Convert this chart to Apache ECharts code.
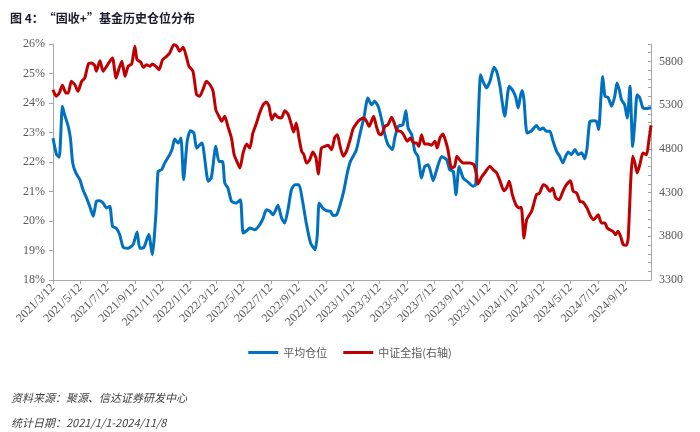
<!DOCTYPE html>
<html>
<head>
<meta charset="utf-8">
<script src="https://cdn.jsdelivr.net/npm/echarts@6/dist/echarts.min.js"></script>
<style>
html,body{margin:0;padding:0;background:#fff;}
#chart{width:700px;height:432px;}
</style>
</head>
<body>
<div id="chart"></div>
<script>
const titleText = '图 4：“固收+”基金历史仓位分布';
const sourceText = '资料来源：聚源、信达证券研发中心';
const dateText = '统计日期：2021/1/1-2024/11/8';
const seriesNames = ['平均仓位', '中证全指(右轴)'];

const xTickLabels = ['2021/3/12','2021/5/12','2021/7/12','2021/9/12','2021/11/12','2022/1/12','2022/3/12','2022/5/12','2022/7/12','2022/9/12','2022/11/12','2023/1/12','2023/3/12','2023/5/12','2023/7/12','2023/9/12','2023/11/12','2024/1/12','2024/3/12','2024/5/12','2024/7/12','2024/9/12'];
const xStart = '2021/3/12';
const xEnd = '2024/11/8';
const leftTicks = [18, 19, 20, 21, 22, 23, 24, 25, 26];
const rightTickLabels = [3300, 3800, 4300, 4800, 5300, 5800];

const positionDates = ['2021-03-12','2021-03-20','2021-03-26','2021-04-02','2021-04-07','2021-04-15','2021-04-20','2021-04-25','2021-05-02','2021-05-11',
'2021-05-18','2021-05-26','2021-06-02','2021-06-10','2021-06-17','2021-06-25','2021-07-02','2021-07-10','2021-07-17','2021-07-23',
'2021-07-31','2021-08-08','2021-08-16','2021-08-27','2021-09-07','2021-09-16','2021-09-22','2021-10-01','2021-10-12','2021-10-20',
'2021-10-28','2021-11-02','2021-11-10','2021-11-17','2021-11-28','2021-12-04','2021-12-09','2021-12-17','2021-12-23','2021-12-29',
'2022-01-06','2022-01-13','2022-01-21','2022-01-27','2022-02-05','2022-02-09','2022-02-14','2022-02-22','2022-03-01','2022-03-11',
'2022-03-18','2022-03-26','2022-03-31','2022-04-07','2022-04-15','2022-04-25','2022-05-05','2022-05-11','2022-05-19','2022-05-26',
'2022-06-06','2022-06-17','2022-06-25','2022-07-02','2022-07-10','2022-07-17','2022-07-28','2022-08-05','2022-08-12','2022-08-20',
'2022-08-27','2022-09-04','2022-09-13','2022-09-21','2022-09-30','2022-10-09','2022-10-19','2022-10-24','2022-10-28','2022-11-05',
'2022-11-13','2022-11-22','2022-11-28','2022-12-06','2022-12-13','2022-12-22','2022-12-30','2023-01-06','2023-01-19','2023-01-27',
'2023-02-05','2023-02-14','2023-02-22','2023-03-01','2023-03-09','2023-03-16','2023-03-24','2023-03-31','2023-04-10','2023-04-15',
'2023-04-23','2023-05-03','2023-05-10','2023-05-15','2023-05-23','2023-05-30','2023-06-06','2023-06-14','2023-06-21','2023-06-29',
'2023-07-10','2023-07-19','2023-07-29','2023-08-09','2023-08-16','2023-08-24','2023-08-30','2023-09-06','2023-09-15','2023-09-26',
'2023-10-07','2023-10-13','2023-10-18','2023-10-24','2023-10-29','2023-11-06','2023-11-14','2023-11-23','2023-11-29','2023-12-06',
'2023-12-17','2023-12-27','2024-01-05','2024-01-11','2024-01-16','2024-01-21','2024-01-25','2024-01-29','2024-02-05','2024-02-15',
'2024-02-26','2024-03-04','2024-03-12','2024-03-19','2024-03-27','2024-04-03','2024-04-11','2024-04-18','2024-04-25','2024-05-01',
'2024-05-07','2024-05-14','2024-05-22','2024-05-29','2024-06-06','2024-06-13','2024-06-18','2024-06-24','2024-07-02','2024-07-09',
'2024-07-14','2024-07-19','2024-07-23','2024-07-28','2024-08-04','2024-08-12','2024-08-19','2024-08-24','2024-08-29','2024-09-03',
'2024-09-10','2024-09-16','2024-09-22','2024-09-28','2024-10-03','2024-10-08','2024-10-14','2024-10-21','2024-10-29','2024-11-05',
'2024-11-08'];

const positionValues = [22.81,22.25,22.16,23.89,23.6,23.21,22.8,21.97,21.63,21.4,
21.06,20.78,20.5,20.16,20.67,20.69,20.61,20.44,20.5,19.82,
19.76,19.54,19.11,19.08,19.2,19.63,19.08,19.1,19.54,18.86,
20.21,21.68,21.74,21.97,22.25,22.47,22.78,22.64,22.81,21.4,
22.7,23.06,22.98,22.47,22.61,22.64,22.14,21.35,21.46,22.53,
22.02,22.02,21.29,21.12,20.67,20.61,20.72,19.59,19.67,19.76,
19.7,19.87,20.1,20.38,20.33,20.21,20.53,20.1,19.93,20.44,
21.06,21.23,21.23,20.67,19.87,19.25,19.03,19.54,20.61,20.44,
20.35,20.33,20.19,20.21,20.5,21.01,21.63,22.02,22.4,22.93,
23.49,24.17,23.94,24.06,23.89,23.49,22.93,22.59,22.42,22.81,
23.21,23.26,23.74,23.15,22.93,22.36,22.19,21.46,21.85,21.91,
21.37,21.8,22.19,22.08,21.74,21.68,20.89,21.85,21.46,21.32,
21.18,21.23,23.15,24.96,24.74,24.51,24.74,25.21,25.07,24.6,
23.55,24.57,24.4,24.17,23.83,24.23,24.42,24.11,22.98,23.06,
23.24,23.1,23.15,23.04,23.04,22.7,22.36,22.19,21.97,22.19,
22.34,22.25,22.42,22.25,22.31,22.11,22.47,23.36,23.4,23.38,
23.1,24.17,24.9,24.23,24.19,23.89,24.23,24.68,24.45,24.11,
23.94,23.49,24.57,22.53,23.38,24.28,24.17,23.83,23.81,23.83,
23.83];

const indexDates = ['2021-03-12','2021-03-19','2021-03-26','2021-04-02','2021-04-10','2021-04-15','2021-04-22','2021-04-30','2021-05-07','2021-05-15',
'2021-05-22','2021-05-30','2021-06-06','2021-06-13','2021-06-17','2021-06-25','2021-07-02','2021-07-10','2021-07-17','2021-07-23',
'2021-07-31','2021-08-07','2021-08-13','2021-08-20','2021-08-27','2021-09-04','2021-09-11','2021-09-16','2021-09-24','2021-09-30',
'2021-10-07','2021-10-15','2021-10-20','2021-10-28','2021-11-04','2021-11-12','2021-11-21','2021-11-28','2021-12-07','2021-12-14',
'2021-12-20','2021-12-28','2022-01-04','2022-01-10','2022-01-19','2022-01-27','2022-02-03','2022-02-11','2022-02-18','2022-02-26',
'2022-03-05','2022-03-11','2022-03-18','2022-03-24','2022-03-31','2022-04-07','2022-04-15','2022-04-21','2022-04-27','2022-05-04',
'2022-05-11','2022-05-19','2022-05-26','2022-06-02','2022-06-10','2022-06-17','2022-06-25','2022-07-02','2022-07-08','2022-07-14',
'2022-07-21','2022-07-28','2022-08-05','2022-08-12','2022-08-20','2022-08-27','2022-09-01','2022-09-07','2022-09-13','2022-09-19',
'2022-09-24','2022-09-30','2022-10-07','2022-10-14','2022-10-21','2022-10-26','2022-11-02','2022-11-10','2022-11-17','2022-11-25',
'2022-12-02','2022-12-08','2022-12-13','2022-12-21','2022-12-28','2023-01-05','2023-01-12','2023-01-20','2023-01-27','2023-02-05',
'2023-02-11','2023-02-17','2023-02-22','2023-02-27','2023-03-05','2023-03-11','2023-03-16','2023-03-24','2023-03-31','2023-04-08',
'2023-04-14','2023-04-20','2023-04-28','2023-05-05','2023-05-13','2023-05-20','2023-05-28','2023-06-03','2023-06-08','2023-06-14',
'2023-06-21','2023-06-29','2023-07-06','2023-07-14','2023-07-19','2023-07-25','2023-08-01','2023-08-07','2023-08-12','2023-08-20',
'2023-08-27','2023-09-01','2023-09-07','2023-09-15','2023-09-22','2023-09-30','2023-10-09','2023-10-15','2023-10-18','2023-10-26',
'2023-11-02','2023-11-14','2023-11-21','2023-11-29','2023-12-06','2023-12-15','2023-12-21','2023-12-27','2024-01-03','2024-01-11',
'2024-01-18','2024-01-23','2024-01-29','2024-02-04','2024-02-15','2024-02-26','2024-03-04','2024-03-12','2024-03-19','2024-03-27',
'2024-04-02','2024-04-09','2024-04-17','2024-04-25','2024-05-03','2024-05-12','2024-05-18','2024-05-26','2024-06-02','2024-06-09',
'2024-06-18','2024-06-26','2024-07-03','2024-07-13','2024-07-20','2024-07-28','2024-08-02','2024-08-08','2024-08-15','2024-08-21',
'2024-08-26','2024-09-01','2024-09-07','2024-09-14','2024-09-18','2024-09-24','2024-09-28','2024-10-03','2024-10-08','2024-10-14',
'2024-10-21','2024-10-29','2024-11-03','2024-11-08'];

const indexValues = [5477,5402,5439,5527,5439,5439,5573,5534,5459,5573,
5611,5771,5782,5756,5688,5809,5688,5745,5802,5840,
5611,5725,5802,5630,5745,5771,5974,5820,5794,5733,
5763,5745,5771,5745,5706,5820,5859,5897,5992,5974,
5916,5962,5859,5745,5688,5420,5402,5490,5573,5534,
5459,5248,5173,5116,5173,5058,4924,4733,4658,4581,
4753,4856,4810,4982,5096,5210,5305,5336,5287,5134,
5199,5161,5153,5237,5191,5077,4993,5096,4924,4772,
4733,4638,4676,4764,4696,4513,4810,4829,4841,4791,
4933,4962,4848,4715,4772,4900,5030,5096,5134,5153,
5116,5058,5116,5173,5058,4970,4962,5058,5077,5161,
5096,5008,5001,4962,4887,4924,4867,4867,4829,4962,
4856,4856,4841,4887,4810,4924,4970,4887,4791,4581,
4601,4715,4676,4638,4638,4638,4619,4505,4398,4475,
4524,4601,4562,4524,4440,4320,4352,4429,4276,4161,
4124,4132,3780,3990,4086,4276,4295,4390,4372,4315,
4352,4238,4219,4315,4390,4436,4315,4295,4200,4192,
4124,4029,3990,4047,3952,3952,3895,3875,3857,3818,
3857,3800,3704,3697,3780,4467,4715,4638,4524,4619,
4753,4733,4887,5070];

function toTs(s) {
  const p = s.split(/[-\/]/).map(Number);
  return new Date(p[0], p[1] - 1, p[2]).getTime();
}
const tickTs = xTickLabels.map(toTs);
function fmtTs(v) {
  let best = 0, bd = Infinity;
  tickTs.forEach((t, i) => { const d = Math.abs(t - v); if (d < bd) { bd = d; best = i; } });
  return xTickLabels[best];
}

const posData = positionDates.map((d, i) => [toTs(d), positionValues[i]]);
const idxData = indexDates.map((d, i) => [toTs(d), indexValues[i]]);

const axisGray = '#a6a6a6';
const labelGray = '#595959';
const serif = '"Liberation Serif", "Times New Roman", serif';
const cjk = '"Noto Sans CJK SC", sans-serif';

const chart = echarts.init(document.getElementById('chart'), null, {renderer: 'canvas'});
chart.setOption({
  animation: false,
  backgroundColor: '#ffffff',
  title: [
    {text: titleText, left: 5, top: 7, textStyle: {fontFamily: cjk, fontSize: 12, fontWeight: 'bold', color: '#1a1a2e'}},
    {text: sourceText, left: 6, top: 387, textStyle: {fontFamily: cjk, fontSize: 11, fontWeight: 'normal', fontStyle: 'italic', color: '#404040'}},
    {text: dateText, left: 6, top: 412, textStyle: {fontFamily: cjk, fontSize: 11, fontWeight: 'normal', fontStyle: 'italic', color: '#404040'}}
  ],
  legend: {
    data: seriesNames,
    left: 'center',
    top: 342,
    icon: 'rect',
    itemWidth: 30,
    itemHeight: 3,
    itemGap: 16,
    textStyle: {fontFamily: cjk, fontSize: 11, color: labelGray}
  },
  grid: {left: 53, right: 49, top: 44, bottom: 152, containLabel: false},
  xAxis: {
    type: 'value',
    min: toTs(xStart),
    max: toTs(xEnd),
    axisLine: {show: true, onZero: false, lineStyle: {color: axisGray, width: 1}},
    axisTick: {show: true, length: 4, lineStyle: {color: axisGray}, customValues: tickTs},
    axisLabel: {
      customValues: tickTs,
      formatter: fmtTs,
      rotate: 45,
      fontFamily: serif,
      fontSize: 12,
      color: labelGray,
      margin: 6,
      showMinLabel: true,
      showMaxLabel: true,
      hideOverlap: false
    },
    splitLine: {show: false}
  },
  yAxis: [
    {
      type: 'value',
      min: leftTicks[0],
      max: leftTicks[leftTicks.length - 1],
      interval: 1,
      position: 'left',
      axisLine: {show: true, lineStyle: {color: axisGray}},
      axisTick: {show: true, length: 4, lineStyle: {color: axisGray}},
      axisLabel: {formatter: v => v + '%', fontFamily: serif, fontSize: 12, color: labelGray, margin: 8},
      splitLine: {show: false}
    },
    {
      type: 'value',
      min: 3300,
      max: 6000,
      interval: 100,
      position: 'right',
      axisLine: {show: true, lineStyle: {color: axisGray}},
      axisTick: {show: true, inside: true, length: 3, lineStyle: {color: axisGray}},
      axisLabel: {
        formatter: v => rightTickLabels.indexOf(Math.round(v)) >= 0 ? String(Math.round(v)) : '',
        fontFamily: serif, fontSize: 12, color: labelGray, margin: 8
      },
      splitLine: {show: false}
    }
  ],
  series: [
    {
      name: seriesNames[0],
      type: 'line',
      yAxisIndex: 0,
      data: posData,
      showSymbol: false,
      smooth: 0.2,
      lineStyle: {color: '#0070C0', width: 3, join: 'round'},
      itemStyle: {color: '#0070C0'}
    },
    {
      name: seriesNames[1],
      type: 'line',
      yAxisIndex: 1,
      data: idxData,
      showSymbol: false,
      smooth: 0.2,
      lineStyle: {color: '#C00000', width: 3, join: 'round'},
      itemStyle: {color: '#C00000'}
    }
  ]
});
</script>
</body>
</html>
